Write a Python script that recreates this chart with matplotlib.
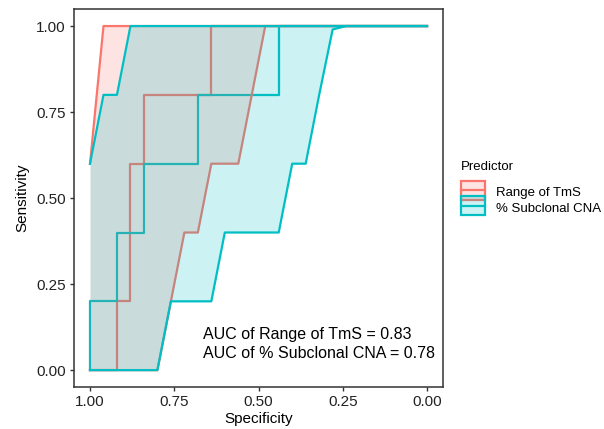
import numpy as np
import matplotlib.pyplot as plt
from matplotlib.patches import Patch, Rectangle
from matplotlib.lines import Line2D
from matplotlib.legend_handler import HandlerBase

plt.rcParams['font.family'] = ['Liberation Sans', 'DejaVu Sans']

predictors = ['Range of TmS', '% Subclonal CNA']
colors = ['#F8766D', '#00BFC4']
auc = [0.83, 0.78]

# ROC curve points (specificity, sensitivity)
tms_spec = [1.00, 0.92, 0.92, 0.88, 0.88, 0.84, 0.84, 0.64, 0.64, 0.00]
tms_sens = [0.0, 0.0, 0.2, 0.2, 0.6, 0.6, 0.8, 0.8, 1.0, 1.0]
cna_spec = [1.00, 1.00, 0.92, 0.92, 0.84, 0.84, 0.68, 0.68, 0.44, 0.44, 0.00]
cna_sens = [0.0, 0.2, 0.2, 0.4, 0.4, 0.6, 0.6, 0.8, 0.8, 1.0, 1.0]

# sensitivity confidence bands on a specificity grid
grid = [1.00, 0.96, 0.92, 0.88, 0.84, 0.80, 0.76, 0.72, 0.68, 0.64, 0.60, 0.56, 0.52,
        0.48, 0.44, 0.40, 0.36, 0.32, 0.28, 0.24, 0.20, 0.16, 0.12, 0.08, 0.04, 0.00]
tms_lo = [0, 0, 0, 0, 0, 0, 0.2, 0.4, 0.4, 0.6, 0.6, 0.6, 0.8,
          1, 1, 1, 1, 1, 1, 1, 1, 1, 1, 1, 1, 1]
tms_hi = [0.6, 1, 1, 1, 1, 1, 1, 1, 1, 1, 1, 1, 1,
          1, 1, 1, 1, 1, 1, 1, 1, 1, 1, 1, 1, 1]
cna_lo = [0, 0, 0, 0, 0, 0, 0.2, 0.2, 0.2, 0.2, 0.4, 0.4, 0.4,
          0.4, 0.4, 0.6, 0.6, 0.8, 0.99, 1, 1, 1, 1, 1, 1, 1]
cna_hi = [0.6, 0.8, 0.8, 1, 1, 1, 1, 1, 1, 1, 1, 1, 1,
          1, 1, 1, 1, 1, 1, 1, 1, 1, 1, 1, 1, 1]


class KeyHandler(HandlerBase):
    # ggplot-style ribbon key: filled box, outline, line through the middle
    def create_artists(self, legend, orig_handle, xdescent, ydescent,
                       width, height, fontsize, trans):
        c = orig_handle.get_edgecolor()
        y0, y1 = -ydescent, height
        box = Rectangle((-xdescent, y0), width, y1 - y0, facecolor=c, alpha=0.2,
                        edgecolor='none', transform=trans)
        edge = Rectangle((-xdescent, y0), width, y1 - y0, facecolor='none',
                         edgecolor=c, lw=1.6, transform=trans)
        mid = Line2D([-xdescent, -xdescent + width], [(y0 + y1) / 2] * 2,
                     color=c, lw=1.6, transform=trans)
        return [box, edge, mid]


fig = plt.figure(figsize=(6.04, 4.29), dpi=100)
ax = fig.add_axes([73.5 / 604, 42 / 429, 369.5 / 604, 378.5 / 429])

lw = 1.6
ax.plot(tms_spec, tms_sens, color=colors[0], lw=lw, zorder=2)
ax.plot(cna_spec, cna_sens, color=colors[1], lw=lw, zorder=2)

z = 3
for lo, hi, c in [(tms_lo, tms_hi, colors[0]), (cna_lo, cna_hi, colors[1])]:
    ax.fill_between(grid, lo, hi, color=c, alpha=0.2, lw=0, zorder=z)
    ax.plot(grid, lo, color=c, lw=lw, zorder=z + 1)
    ax.plot(grid, hi, color=c, lw=lw, zorder=z + 1)
    z += 2

ax.set_xlim(1.049, -0.0475)
ax.set_ylim(-0.049, 1.051)
ax.set_xticks([1.0, 0.75, 0.5, 0.25, 0.0])
ax.set_yticks([0.0, 0.25, 0.5, 0.75, 1.0])
ax.set_xticklabels(['1.00', '0.75', '0.50', '0.25', '0.00'])
ax.set_yticklabels(['0.00', '0.25', '0.50', '0.75', '1.00'])
ax.tick_params(direction='out', length=3, width=1, color='#333333',
               labelsize=11, labelcolor='#222222', pad=2.5)
for s in ax.spines.values():
    s.set_color('#333333')
    s.set_linewidth(1.1)
    s.set_zorder(10)
ax.set_xlabel('Specificity', fontsize=11, labelpad=2.5)
ax.set_ylabel('Sensitivity', fontsize=11, labelpad=5)

ax.text(0.665, 0.105, f'AUC of {predictors[0]} = {auc[0]:.2f}', fontsize=11.5,
        va='center', ha='left', zorder=12)
ax.text(0.665, 0.049, f'AUC of {predictors[1]} = {auc[1]:.2f}', fontsize=11.5,
        va='center', ha='left', zorder=12)

handles = [Patch(edgecolor=c) for c in colors]
leg = fig.legend(handles, predictors, title='Predictor', loc='upper left',
                 bbox_to_anchor=(461 / 604, 1 - 161 / 429), frameon=False,
                 handler_map={Patch: KeyHandler()},
                 fontsize=9.5, title_fontsize=9.5, handlelength=1.8, handleheight=1.42,
                 labelspacing=0, handletextpad=0.85, borderpad=0, borderaxespad=0,
                 alignment='left')
leg._legend_box.sep = 8

fig.savefig('out.png', dpi=100)
